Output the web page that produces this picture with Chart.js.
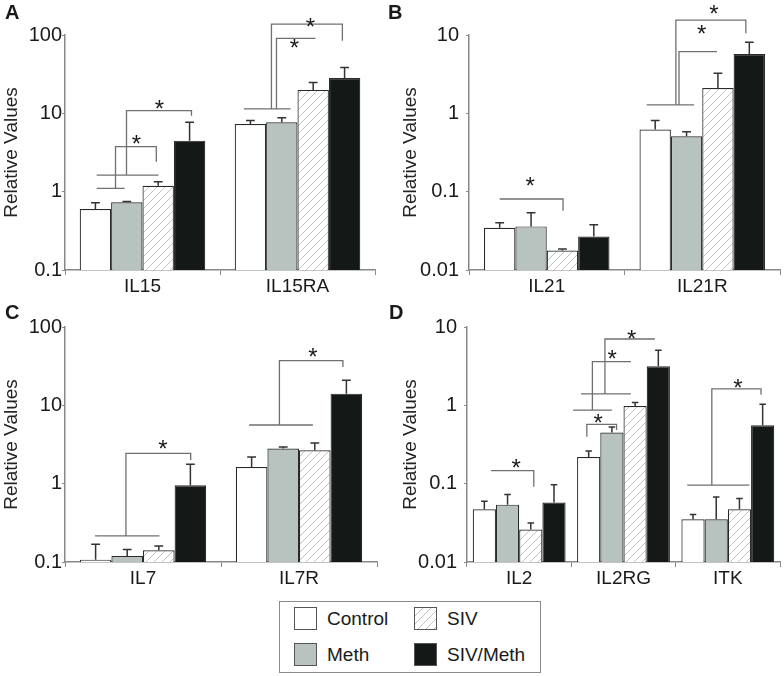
<!DOCTYPE html>
<html lang="en">
<head>
<meta charset="utf-8">
<title>Relative Values</title>
<script src="https://cdn.jsdelivr.net/npm/chart.js@4.4.1/dist/chart.umd.min.js"></script>
<style>
  body { margin: 0; background: #fff; font-family: "Liberation Sans", Arial, sans-serif; color: #1a1a1a; }
  #wrap { position: relative; width: 784px; height: 676px; overflow: hidden; }
  canvas { position: absolute; }
  .tag { position: absolute; font-weight: bold; font-size: 20px; line-height: 20px; }
  #legend { position: absolute; left: 279px; top: 601px; width: 260px; height: 70px; border: 1.5px solid #8a8a8a; }
  .sw { position: absolute; width: 21px; height: 21px; border: 1px solid #555; }
  .lt { position: absolute; font-size: 19px; line-height: 23px; }
</style>
</head>
<body>
<div id="wrap">
  <canvas id="chartA" width="392" height="292" style="left:0;top:0"></canvas>
  <canvas id="chartB" width="392" height="292" style="left:392px;top:0"></canvas>
  <canvas id="chartC" width="392" height="292" style="left:0;top:292px"></canvas>
  <canvas id="chartD" width="392" height="292" style="left:392px;top:292px"></canvas>
  <div class="tag" style="left:5px;top:2px">A</div>
  <div class="tag" style="left:388px;top:2px">B</div>
  <div class="tag" style="left:5px;top:302px">C</div>
  <div class="tag" style="left:389px;top:302px">D</div>
  <div id="legend"></div>
  <div class="sw" style="left:294px;top:607px;background:#fff"></div>
  <div class="lt" style="left:327px;top:607px">Control</div>
  <div class="sw" id="swSiv" style="left:414px;top:607px"></div>
  <div class="lt" style="left:447px;top:607px">SIV</div>
  <div class="sw" style="left:294px;top:643px;background:#b8c2bf"></div>
  <div class="lt" style="left:327px;top:643px">Meth</div>
  <div class="sw" style="left:414px;top:643px;background:#141816"></div>
  <div class="lt" style="left:447px;top:643px">SIV/Meth</div>
</div>
<script>
Chart.defaults.font.family = '"Liberation Sans", Arial, sans-serif';

// groups in order: Control, Meth, SIV, SIV/Meth
var groups = ["Control", "Meth", "SIV", "SIV/Meth"];

// panel A
var catsA = ["IL15", "IL15RA"];
var ticksA = [0.1, 1, 10, 100];
var valuesA = [[0.6, 7.3], [0.73, 7.7], [1.19, 19.9], [4.48, 28.3]];
var errorsA = [[0.72, 8.1], [0.75, 8.8], [1.34, 24.7], [7.7, 38.4]];

// panel B
var catsB = ["IL21", "IL21R"];
var ticksB = [0.01, 0.1, 1, 10];
var valuesB = [[0.0345, 0.62], [0.036, 0.51], [0.0177, 2.11], [0.0267, 5.7]];
var errorsB = [[0.04, 0.81], [0.054, 0.58], [0.0185, 3.24], [0.0377, 8.06]];

// panel C
var catsC = ["IL7", "IL7R"];
var ticksC = [0.1, 1, 10, 100];
var valuesC = [[0.107, 1.63], [0.119, 2.81], [0.141, 2.67], [0.955, 14.1]];
var errorsC = [[0.168, 2.19], [0.144, 2.94], [0.16, 3.31], [1.77, 20.9]];

// panel D
var catsD = ["IL2", "IL2RG", "ITK"];
var ticksD = [0.01, 0.1, 1, 10];
var valuesD = [[0.047, 0.219, 0.0351], [0.054, 0.45, 0.0351], [0.026, 0.98, 0.047], [0.0574, 3.16, 0.557]];
var errorsD = [[0.0596, 0.262, 0.0403], [0.0726, 0.53, 0.0676], [0.0315, 1.09, 0.0645], [0.097, 5.06, 1.03]];

// significance brackets: x in bar units inside a category (0.5 = centre of first bar), y in data units
var bracketsA = [
  { cat: 0, base: [0.54, 1.43, 1.10], stem: 1.14, top: 3.75, end: 2.44, drop: 2.41, star: [1.81, 4.84] },
  { cat: 0, base: [0.54, 2.51, 1.63], stem: 1.49, top: 10.8, end: 3.56, drop: 9.33, star: [2.54, 13.5] },
  { cat: 1, base: [0.29, 1.78, 11.4], stem: 1.17, top: 138, end: 3.43, drop: 84.6, star: [2.41, 150] },
  { cat: 1, base: null, low: 11.4, stem: 1.33, top: 90.8, end: 2.57, drop: 90.8, star: [1.9, 81.5] }
];
var bracketsB = [
  { cat: 0, base: null, low: 0.0806, stem: 0.5, top: 0.0806, end: 2.52, drop: 0.0571, star: [1.47, 0.141] },
  { cat: 1, base: [0.23, 1.74, 1.28], stem: 1.16, top: 15.5, end: 3.39, drop: 10.5, star: [2.37, 21.9] },
  { cat: 1, base: null, low: 1.28, stem: 1.26, top: 6.12, end: 2.47, drop: 6.12, star: [1.98, 12.2] }
];
var bracketsC = [
  { cat: 0, base: [0.48, 2.52, 0.215], stem: 1.46, top: 2.44, end: 3.51, drop: 2.0, star: [2.63, 3.27] },
  { cat: 1, base: [0.42, 2.44, 5.61], stem: 1.38, top: 37.2, end: 3.39, drop: 30.8, star: [2.44, 49.9] }
];
var bracketsD = [
  { cat: 0, base: null, low: 0.1465, stem: 0.79, top: 0.1465, end: 2.63, drop: 0.0915, star: [1.87, 0.191] },
  { cat: 1, base: null, low: 0.398, stem: 0.42, top: 0.573, end: 1.70, drop: 0.484, star: [0.91, 0.716] },
  { cat: 1, base: [-0.17, 1.5, 0.871], stem: 0.66, top: 3.61, end: 2.32, drop: 3.61, star: [1.51, 4.62] },
  { cat: 1, base: [0.17, 2.32, 1.40], stem: 1.2, top: 7.03, end: 3.35, drop: 7.03, star: [2.35, 8.46] },
  { cat: 2, base: [0.25, 2.93, 0.096], stem: 1.31, top: 1.62, end: 3.43, drop: 1.36, star: [2.43, 2.0] }
];

function hatchCanvas() {
  var c = document.createElement('canvas');
  c.width = 8; c.height = 8;
  var g = c.getContext('2d');
  g.fillStyle = '#fff';
  g.fillRect(0, 0, 8, 8);
  g.strokeStyle = '#c2c2c2';
  g.lineWidth = 1;
  g.beginPath();
  g.moveTo(0, 8); g.lineTo(8, 0);
  g.moveTo(-4, 4); g.lineTo(4, -4);
  g.moveTo(4, 12); g.lineTo(12, 4);
  g.stroke();
  return c;
}

var hatchTile = hatchCanvas();
var hatch = hatchTile.getContext('2d').createPattern(hatchTile, 'repeat');
document.getElementById('swSiv').style.backgroundImage = 'url(' + hatchTile.toDataURL() + ')';
var fills = ['#ffffff', '#b8c2bf', hatch, '#141816'];

function marksPlugin(brackets) {
  return {
    id: 'marks',
    afterDatasetsDraw: function (chart) {
      var ctx = chart.ctx;
      var y = chart.scales.y;
      ctx.save();
      // error bars (upper only)
      ctx.strokeStyle = '#333';
      ctx.lineWidth = 1.5;
      chart.data.datasets.forEach(function (ds, i) {
        chart.getDatasetMeta(i).data.forEach(function (bar, j) {
          var top = y.getPixelForValue(ds.errors[j]);
          var cap = bar.width * 0.14;
          ctx.beginPath();
          ctx.moveTo(bar.x, bar.y);
          ctx.lineTo(bar.x, top);
          ctx.moveTo(bar.x - cap, top);
          ctx.lineTo(bar.x + cap, top);
          ctx.stroke();
        });
      });
      // brackets
      var bars = chart.getDatasetMeta(0).data;
      function px(cat, pos) {
        return bars[cat].x + (pos - 0.5) * bars[cat].width;
      }
      ctx.strokeStyle = '#707070';
      ctx.lineWidth = 1.3;
      ctx.fillStyle = '#1a1a1a';
      ctx.font = '24px "Liberation Sans", Arial, sans-serif';
      ctx.textAlign = 'center';
      ctx.textBaseline = 'alphabetic';
      brackets.forEach(function (b) {
        var low = b.base ? b.base[2] : b.low;
        ctx.beginPath();
        if (b.base) {
          ctx.moveTo(px(b.cat, b.base[0]), y.getPixelForValue(b.base[2]));
          ctx.lineTo(px(b.cat, b.base[1]), y.getPixelForValue(b.base[2]));
        }
        ctx.moveTo(px(b.cat, b.stem), y.getPixelForValue(low));
        ctx.lineTo(px(b.cat, b.stem), y.getPixelForValue(b.top));
        ctx.lineTo(px(b.cat, b.end), y.getPixelForValue(b.top));
        ctx.lineTo(px(b.cat, b.end), y.getPixelForValue(b.drop));
        ctx.stroke();
        ctx.fillText('*', px(b.cat, b.star[0]), y.getPixelForValue(b.star[1]) + 14);
      });
      ctx.restore();
    }
  };
}

function makeChart(id, cats, values, errors, ticks, brackets, opts) {
  var datasets = groups.map(function (g, i) {
    return {
      label: g,
      data: values[i],
      errors: errors[i],
      backgroundColor: fills[i],
      borderColor: '#2a2a2a',
      borderWidth: 1.2,
      categoryPercentage: opts.catPct,
      barPercentage: 1
    };
  });
  return new Chart(document.getElementById(id), {
    type: 'bar',
    data: { labels: cats, datasets: datasets },
    options: {
      responsive: false,
      animation: false,
      layout: { padding: { top: 35, right: opts.padRight, left: 0, bottom: 0 } },
      plugins: { legend: { display: false }, tooltip: { enabled: false } },
      scales: {
        x: {
          afterFit: function (s) { s.height = 22; },
          ticks: { font: { size: 19 }, color: '#1a1a1a', padding: 0 },
          grid: { drawOnChartArea: false, tickLength: 5, color: '#888', offset: true },
          border: { color: '#888', width: 1.5 }
        },
        y: {
          type: 'logarithmic',
          min: ticks[0],
          max: ticks[ticks.length - 1],
          afterBuildTicks: function (s) {
            s.ticks = ticks.map(function (v) { return { value: v }; });
          },
          afterFit: function (s) { s.width = opts.yWidth; },
          ticks: {
            autoSkip: false,
            font: { size: 20 },
            color: '#1a1a1a',
            padding: opts.tickPad,
            callback: function (v) { return String(v); }
          },
          grid: { drawOnChartArea: false, tickLength: 3, color: '#888' },
          border: { color: '#888', width: 1.5 },
          title: {
            display: true,
            text: 'Relative Values',
            font: { size: 19 },
            color: '#222',
            padding: { top: opts.titlePad, bottom: 0 }
          }
        }
      }
    },
    plugins: [marksPlugin(brackets)]
  });
}

makeChart('chartA', catsA, valuesA, errorsA, ticksA, bracketsA, { catPct: 0.81, padRight: 17, yWidth: 65, tickPad: 0, titlePad: 0 });
makeChart('chartB', catsB, valuesB, errorsB, ticksB, bracketsB, { catPct: 0.807, padRight: 4, yWidth: 77, tickPad: 7, titlePad: 7 });
makeChart('chartC', catsC, valuesC, errorsC, ticksC, bracketsC, { catPct: 0.81, padRight: 15, yWidth: 65, tickPad: 0, titlePad: 0 });
makeChart('chartD', catsD, valuesD, errorsD, ticksD, bracketsD, { catPct: 0.89, padRight: 4, yWidth: 75, tickPad: 7, titlePad: 7 });
</script>
</body>
</html>
